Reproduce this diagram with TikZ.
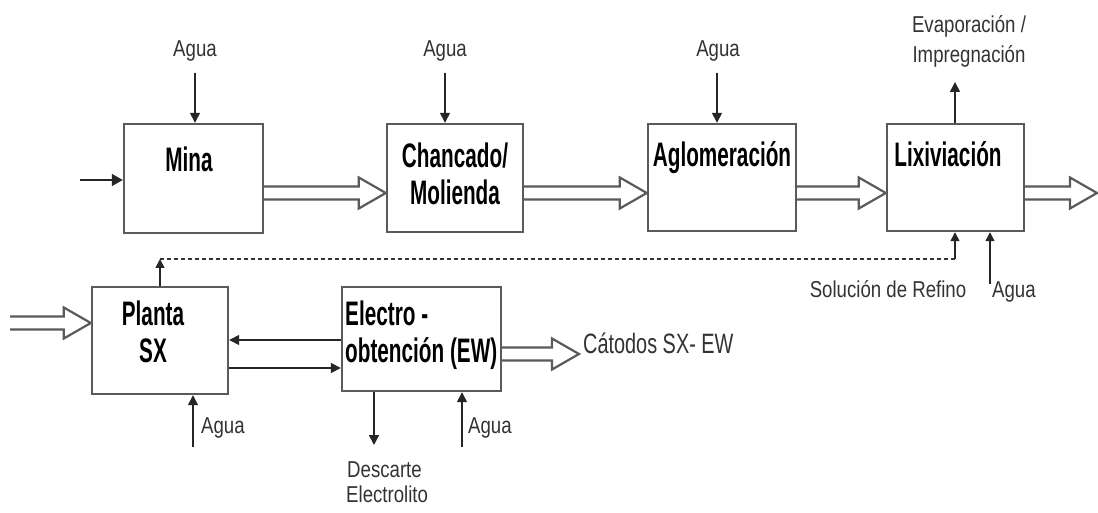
\documentclass[tikz,border=0pt]{standalone}
\usepackage{fontspec}
\setmainfont{Liberation Sans}
\newfontfamily\boxfam[FakeStretch=0.61]{Liberation Sans}
\newfontfamily\lblfam[FakeStretch=0.81]{Liberation Sans}
\newfontfamily\catfam[FakeStretch=0.71]{Liberation Sans}
\usetikzlibrary{arrows.meta,calc}
\definecolor{boxgray}{HTML}{5A5A5A}
\definecolor{txtgray}{HTML}{333333}
\tikzset{
  procbox/.style={draw=boxgray, line width=2.4pt, fill=white, inner sep=0pt},
  boxlbl/.style={font=\boxfam\bfseries\fontsize{34}{37}\selectfont, inner sep=0pt, anchor=base, text=black},
  smalllbl/.style={font=\lblfam\fontsize{23}{27}\selectfont, inner sep=0pt, anchor=base, text=txtgray},
  catlbl/.style={font=\catfam\fontsize{28}{30}\selectfont, inner sep=0pt, anchor=base west, text=txtgray},
  thinarr/.style={draw=black!85, line width=1.5pt, -{Triangle[length=10pt,width=10pt]}},
  hollowline/.style={draw=boxgray, line width=2.2pt, fill=white, line join=miter},
  refline/.style={draw=black!80, line width=1.6pt, dash pattern=on 4pt off 3pt},
}
\newcommand{\hollowflow}[2]{%
  \path[hollowline] let \p1=#1, \p2=#2 in
    (\x1,\y1+6.5pt) -- (\x2-27pt,\y1+6.5pt) -- (\x2-27pt,\y1+15.5pt) -- (\x2,\y1)
    -- (\x2-27pt,\y1-15.5pt) -- (\x2-27pt,\y1-6.5pt) -- (\x1,\y1-6.5pt);}
\begin{document}
\begin{tikzpicture}[x=1pt,y=-1pt]
\useasboundingbox[fill=white] (0,0) rectangle (1098,513);

% process boxes
\node[procbox, minimum width=139pt, minimum height=109pt] (mina) at (193.5,178.5) {};
\node[procbox, minimum width=136pt, minimum height=108pt] (chan) at (455,178) {};
\node[procbox, minimum width=148pt, minimum height=107pt] (aglo) at (722,177.5) {};
\node[procbox, minimum width=137pt, minimum height=107pt] (lix) at (955.5,177.5) {};
\node[procbox, minimum width=136pt, minimum height=107pt] (planta) at (160,340.5) {};
\node[procbox, minimum width=159pt, minimum height=104pt] (ew) at (421.5,339) {};

% box labels
\node[boxlbl] (minaT) at (189,172) {Mina};
\node[boxlbl] (chanT1) at (455,168) {Chancado/};
\node[boxlbl] (chanT2) at (455,205) {Molienda};
\node[boxlbl] (agloT) at (722,167) {Aglomeración};
\node[boxlbl] (lixT) at (948,167) {Lixiviación};
\node[boxlbl] (plantaT1) at (153,325) {Planta};
\node[boxlbl] (plantaT2) at (153,362) {SX};
\node[boxlbl, anchor=base west] (ewT1) at (345,325) {Electro -};
\node[boxlbl, anchor=base west] (ewT2) at (345,362) {obtención (EW)};

% helper coordinates
\coordinate (yflow) at (0,193);
\coordinate (entry) at (80,180);
\coordinate (outlix) at (1097,193);
\coordinate (inplanta) at (10,323);
\coordinate (outew) at (579,354);
\coordinate (yback) at (0,340);
\coordinate (yfwd) at (0,368);

% main solid flows (hollow arrows)
\hollowflow{(mina.east |- yflow)}{(chan.west |- yflow)}
\hollowflow{(chan.east |- yflow)}{(aglo.west |- yflow)}
\hollowflow{(aglo.east |- yflow)}{(lix.west |- yflow)}
\hollowflow{(lix.east |- yflow)}{(outlix)}
\hollowflow{(inplanta)}{(planta.west |- inplanta)}
\hollowflow{(ew.east |- outew)}{(outew)}

% entry to Mina
\draw[thinarr, -{Triangle[length=11pt,width=12pt]}] (entry) -- (entry -| mina.west);

% water inputs on top row
\node[smalllbl] (agua1) at (195,57) {Agua};
\node[smalllbl] (agua2) at (445,57) {Agua};
\node[smalllbl] (agua3) at (718,57) {Agua};
\coordinate (w1) at (195,73);
\coordinate (w2) at (445,73);
\coordinate (w3) at (717,73);
\draw[thinarr] (w1) -- (w1 |- mina.north);
\draw[thinarr] (w2) -- (w2 |- chan.north);
\draw[thinarr] (w3) -- (w3 |- aglo.north);

% evaporation
\node[smalllbl] (evap1) at (969,33) {Evaporación /};
\node[smalllbl] (evap2) at (969,63) {Impregnación};
\coordinate (evtop) at (955,82);
\draw[thinarr] (evtop |- lix.north) -- (evtop);

% raffinate return (dashed)
\coordinate (r1) at (160,259);
\coordinate (r2) at (955,259);
\draw[thinarr, -{Triangle[length=9pt,width=9pt]}] (r1 |- planta.north) -- (r1);
\draw[refline] (r1) -- (r2);
\draw[thinarr, -{Triangle[length=9pt,width=9pt]}] (r2) -- (r2 |- lix.south);
\node[smalllbl] (refino) at (888,298) {Solución de Refino};

% water to lixiviation
\coordinate (w4) at (990,284);
\draw[thinarr, -{Triangle[length=9pt,width=9pt]}] (w4) -- (w4 |- lix.south);
\node[smalllbl, anchor=base west] (agua4) at (992,298) {Agua};

% SX <-> EW
\draw[thinarr] (ew.west |- yback) -- (planta.east |- yback);
\draw[thinarr] (planta.east |- yfwd) -- (ew.west |- yfwd);

% cathodes
\node[catlbl] (catodos) at (583,353) {Cátodos SX- EW};

% water below SX and EW
\coordinate (w5) at (193,447);
\coordinate (w6) at (462,447);
\draw[thinarr] (w5) -- (w5 |- planta.south);
\draw[thinarr] (w6) -- (w6 |- ew.south);
\node[smalllbl, anchor=base west] (agua5) at (201,433) {Agua};
\node[smalllbl, anchor=base west] (agua6) at (468,433) {Agua};

% electrolyte discard
\coordinate (d1) at (374,445);
\draw[thinarr] (d1 |- ew.south) -- (d1);
\node[smalllbl, anchor=base west] (desc1) at (347,477) {Descarte};
\node[smalllbl, anchor=base west] (desc2) at (346,502) {Electrolito};
\end{tikzpicture}
\end{document}
